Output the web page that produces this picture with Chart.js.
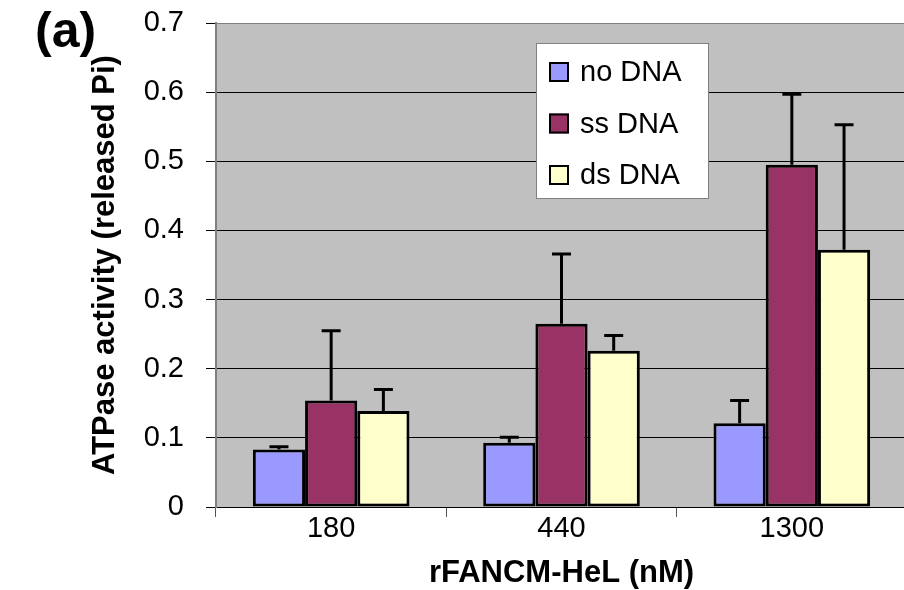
<!DOCTYPE html>
<html>
<head>
<meta charset="utf-8">
<script src="https://cdn.jsdelivr.net/npm/chart.js@4.4.1/dist/chart.umd.min.js"></script>
<style>
    html, body { margin: 0; padding: 0; background: #fff; overflow: hidden; }
    #wrap { width: 904px; height: 590px; overflow: hidden; }
</style>
</head>
<body>
<div id="wrap"><canvas id="atpase-chart" width="912" height="590"></canvas></div>
<script>
// values
const concentrations = ['180', '440', '1300'];
const seriesNames = ['no DNA', 'ss DNA', 'ds DNA'];
const noDna = [0.083, 0.093, 0.121];
const ssDna = [0.154, 0.265, 0.495];
const dsDna = [0.139, 0.226, 0.372];
const noDnaErr = [0.004, 0.008, 0.033];
const ssDnaErr = [0.101, 0.101, 0.102];
const dsDnaErr = [0.031, 0.022, 0.181];
const yTickLabels = ['0', '0.1', '0.2', '0.3', '0.4', '0.5', '0.6', '0.7'];

const FONT = "'Liberation Sans', Arial, sans-serif";
Chart.defaults.font.family = FONT;
Chart.defaults.color = '#000';

const plotBackground = {
    id: 'plotBackground',
    beforeDraw(chart) {
        const { ctx, chartArea } = chart;
        ctx.save();
        ctx.fillStyle = '#fff';
        ctx.fillRect(0, 0, chart.width, chart.height);
        ctx.fillStyle = '#c0c0c0';
        ctx.fillRect(chartArea.left, chartArea.top, chartArea.right - chartArea.left, chartArea.bottom - chartArea.top);
        ctx.restore();
    }
};

// upper error bars only, like the original
const errorBars = {
    id: 'errorBars',
    afterDatasetsDraw(chart) {
        const ctx = chart.ctx;
        const yScale = chart.scales.y;
        chart.data.datasets.forEach((dataset, i) => {
            const meta = chart.getDatasetMeta(i);
            meta.data.forEach((bar, j) => {
                const top = yScale.getPixelForValue(dataset.data[j] + dataset.errors[j]);
                ctx.save();
                ctx.strokeStyle = '#000';
                ctx.lineWidth = 3;
                ctx.beginPath();
                ctx.moveTo(bar.x, bar.y);
                ctx.lineTo(bar.x, top);
                ctx.moveTo(bar.x - 9.5, top);
                ctx.lineTo(bar.x + 9.5, top);
                ctx.stroke();
                ctx.restore();
            });
        });
    }
};

const boxLegend = {
    id: 'boxLegend',
    afterDraw(chart) {
        const ctx = chart.ctx;
        ctx.save();
        ctx.fillStyle = '#fff';
        ctx.fillRect(536, 43, 172, 155);
        ctx.strokeStyle = '#808080';
        ctx.lineWidth = 1;
        ctx.strokeRect(536.5, 43.5, 172, 155);
        chart.data.datasets.forEach((dataset, i) => {
            const cy = 72 + i * 51.5;
            ctx.fillStyle = dataset.backgroundColor;
            ctx.fillRect(549, cy - 10, 20, 20);
            ctx.strokeStyle = '#000';
            ctx.lineWidth = 2;
            ctx.strokeRect(550, cy - 9, 18, 18);
            ctx.fillStyle = '#000';
            ctx.font = '29px ' + FONT;
            ctx.textBaseline = 'middle';
            ctx.textAlign = 'left';
            ctx.fillText(dataset.label, 580, cy + 1);
        });
        ctx.font = 'bold 50px ' + FONT;
        ctx.textBaseline = 'middle';
        ctx.fillText('(a)', 35, 33);
        ctx.restore();
    }
};

const atpaseChart = new Chart(document.getElementById('atpase-chart').getContext('2d'), {
    type: 'bar',
    data: {
        labels: concentrations,
        datasets: [
            { label: seriesNames[0], data: noDna, errors: noDnaErr, backgroundColor: '#9999ff' },
            { label: seriesNames[1], data: ssDna, errors: ssDnaErr, backgroundColor: '#993366' },
            { label: seriesNames[2], data: dsDna, errors: dsDnaErr, backgroundColor: '#ffffcc' }
        ]
    },
    options: {
        responsive: false,
        animation: false,
        devicePixelRatio: 1,
        datasets: {
            bar: {
                borderColor: '#000',
                borderWidth: 3,
                borderSkipped: false,
                categoryPercentage: 0.68,
                barPercentage: 1
            }
        },
        layout: { padding: { top: 23, right: 5, bottom: 0, left: 0 } },
        plugins: {
            legend: { display: false },
            tooltip: { enabled: false }
        },
        scales: {
            x: {
                afterFit: (scale) => { scale.height = 83; },
                grid: {
                    display: true,
                    drawOnChartArea: false,
                    drawTicks: true,
                    tickLength: 10,
                    color: '#555',
                    lineWidth: 1
                },
                border: { display: true, color: '#000', width: 1 },
                ticks: {
                    font: { size: 29, lineHeight: 1 },
                    padding: -3,
                    maxRotation: 0
                },
                title: {
                    display: true,
                    text: 'rFANCM-HeL (nM)',
                    font: { size: 31, weight: 'bold', lineHeight: 1 },
                    padding: { top: 0, bottom: 1.5 }
                }
            },
            y: {
                min: 0,
                max: 0.7,
                afterFit: (scale) => {
                    scale.width = 216;
                    scale.paddingTop = 0;
                    scale.paddingBottom = 0;
                },
                grid: {
                    color: (c) => c.tick && c.tick.value > 0.69 ? '#808080' : '#000',
                    tickColor: '#000',
                    lineWidth: 1,
                    tickLength: 10
                },
                border: { display: true, color: '#808080', width: 2 },
                ticks: {
                    stepSize: 0.1,
                    padding: 22,
                    font: { size: 29 },
                    callback: (value, index) => yTickLabels[index]
                },
                title: {
                    display: true,
                    text: 'ATPase activity (released Pi)',
                    font: { size: 31, weight: 'bold', lineHeight: 1.2 },
                    padding: { top: 87, bottom: 0 }
                }
            }
        }
    },
    plugins: [plotBackground, errorBars, boxLegend]
});
</script>
</body>
</html>
